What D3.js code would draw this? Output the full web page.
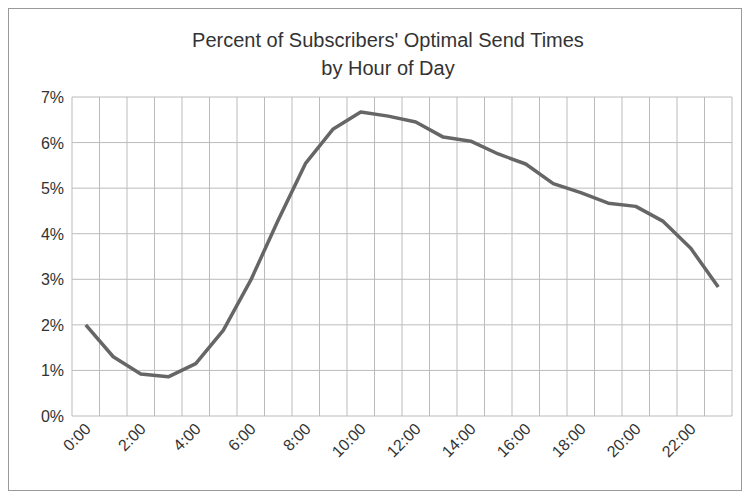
<!DOCTYPE html>
<html><head><meta charset="utf-8">
<script src="https://cdn.jsdelivr.net/npm/d3@7"></script>
<style>body{margin:0;background:#fff}text{font-family:"Liberation Sans",Arial,sans-serif;fill:#333}</style>
</head><body><svg id="c" width="750" height="500"></svg>
<script>
const hours = d3.range(24).map(h => h + ":00");
const values = [2.0,1.3,0.92,0.86,1.15,1.88,2.98,4.3,5.55,6.3,6.67,6.58,6.45,6.12,6.03,5.75,5.53,5.1,4.9,4.67,4.6,4.27,3.68,2.83];
const yTicks = [0,1,2,3,4,5,6,7];
const titleLines = ["Percent of Subscribers' Optimal Send Times","by Hour of Day"];

const svg = d3.select("#c");
svg.append("rect").attr("x",8.5).attr("y",8.5).attr("width",733).attr("height",482).attr("fill","none").attr("stroke","#999");
const L=72,R=732,T=97,B=416;
const x = d3.scaleBand().domain(hours).range([L,R]);
const y = d3.scaleLinear().domain([0,7]).range([B,T]);
const g = svg.append("g");
g.selectAll(".vg").data(hours.concat(["end"])).join("line")
 .attr("x1",(d,i)=>L+i*x.bandwidth()).attr("x2",(d,i)=>L+i*x.bandwidth())
 .attr("y1",T).attr("y2",B).attr("stroke","#bbb");
g.selectAll(".hg").data(yTicks).join("line")
 .attr("x1",L).attr("x2",R).attr("y1",d=>y(d)).attr("y2",d=>y(d)).attr("stroke","#bbb");
g.selectAll(".yl").data(yTicks).join("text")
 .attr("x",L-8).attr("y",d=>y(d)+6).attr("text-anchor","end").attr("font-size",16).text(d=>d+"%");
g.selectAll(".xl").data(hours.filter((d,i)=>i%2==0)).join("text")
 .attr("transform",d=>`translate(${x(d)+x.bandwidth()/2+6},${B+14}) rotate(-45)`)
 .attr("text-anchor","end").attr("font-size",16).text(d=>d);
svg.append("path").datum(values).attr("fill","none").attr("stroke","#666").attr("stroke-width",3.5)
 .attr("stroke-linejoin","round")
 .attr("d",d3.line().x((d,i)=>x(hours[i])+x.bandwidth()/2).y(d=>y(d)));
svg.selectAll(".t").data(titleLines).join("text").attr("x",388).attr("y",(d,i)=>47+i*28)
 .attr("text-anchor","middle").attr("font-size",20).text(d=>d);
</script></body></html>
